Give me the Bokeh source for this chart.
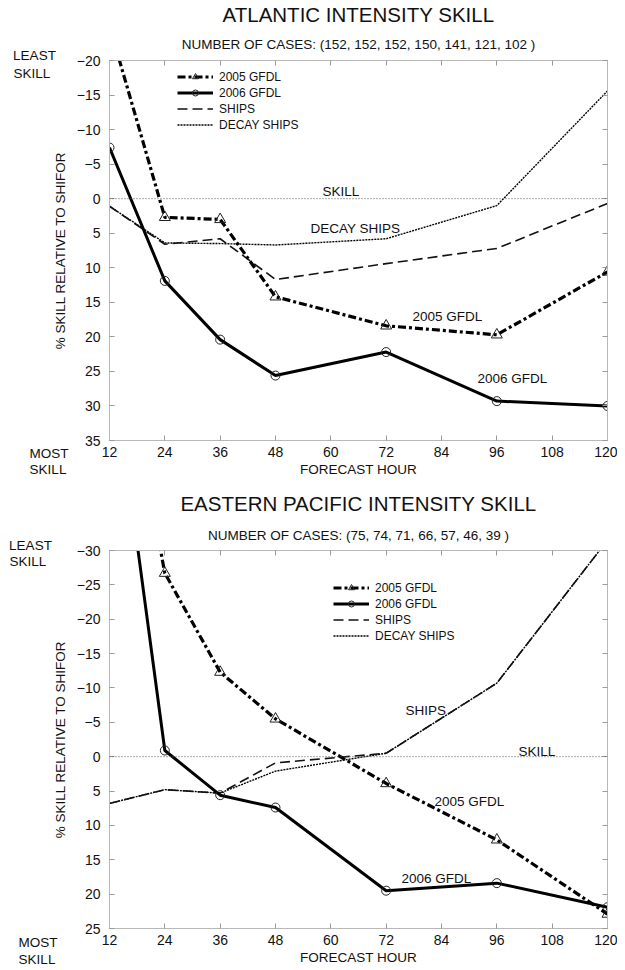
import json
import math
from bokeh.plotting import figure
from bokeh.models import (Range1d, FixedTicker, LinearAxis, Label, Span, Legend,
                          LegendItem, CustomJSTickFormatter, Title)
from bokeh.layouts import column, row
from bokeh.embed import file_html
from bokeh.resources import INLINE

# ---------------- data ----------------
hours = [12, 24, 36, 48, 72, 96, 120]
x_ticks = [12, 24, 36, 48, 60, 72, 84, 96, 108, 120]

atl_cases = [152, 152, 152, 150, 141, 121, 102]
atl_gfdl_2005 = [-25.0, 2.7, 3.0, 14.2, 18.4, 19.7, 10.6]
atl_gfdl_2006 = [-7.4, 11.9, 20.4, 25.6, 22.2, 29.3, 30.0]
atl_ships = [1.1, 6.6, 5.8, 11.7, 9.4, 7.2, 0.7]
atl_decay_ships = [1.1, 6.4, 6.5, 6.7, 5.8, 1.0, -15.6]
atl_y_ticks = [-20, -15, -10, -5, 0, 5, 10, 15, 20, 25, 30, 35]

epac_cases = [75, 74, 71, 66, 57, 46, 39]
epac_gfdl_2005 = [-70.0, -26.7, -12.3, -5.5, 3.9, 12.1, 22.9]
epac_gfdl_2006 = [-61.0, -0.9, 5.6, 7.4, 19.5, 18.4, 21.9]
epac_ships = [6.8, 4.8, 5.3, 0.9, -0.5, -10.7, -31.5]
epac_decay_ships = [6.8, 4.8, 5.3, 2.1, -0.5, -10.7, -31.5]
epac_y_ticks = [-30, -25, -20, -15, -10, -5, 0, 5, 10, 15, 20, 25]

series_names = ["2005 GFDL", "2006 GFDL", "SHIPS", "DECAY SHIPS"]
y_title = "% SKILL RELATIVE TO SHIFOR"
x_title = "FORECAST HOUR"

FONT = "Liberation Sans"
INK = "#111111"
FRAME = "#b8b8b8"
TXT = "13.5px"

# in-plot labels, pixels relative to the chart's top-left: (text, x, y)
atl_inplot = [("SKILL", 322, 191), ("DECAY SHIPS", 310, 228),
              ("2005 GFDL", 412, 316), ("2006 GFDL", 477, 378)]
epac_inplot = [("SHIPS", 405, 226), ("SKILL", 518, 267),
               ("2005 GFDL", 434, 317), ("2006 GFDL", 401, 394)]

STRIP_W = 70
MAIN_W = 547
FRAME_LEFT = 109          # page x of the plotting frame
BORDER_LEFT = FRAME_LEFT - STRIP_W
BORDER_RIGHT = 10


def text_axis(fig, place, tick, text, standoff):
    ax = LinearAxis(ticker=FixedTicker(ticks=[tick]),
                    formatter=CustomJSTickFormatter(code="return %s;" % json.dumps(text)),
                    major_label_standoff=standoff, axis_line_color=None,
                    major_tick_line_color=None, minor_tick_line_color=None,
                    major_tick_in=0, major_tick_out=0, minor_tick_in=0, minor_tick_out=0,
                    major_label_text_font=FONT, major_label_text_font_size=TXT,
                    major_label_text_color=INK)
    fig.add_layout(ax, place)


def make_strip(fig_h, border_top, border_bottom, least, skill_top, most, skill_bottom, ylab_y):
    s = figure(width=STRIP_W, height=fig_h, output_backend="svg", toolbar_location=None,
               x_range=Range1d(0, STRIP_W),
               y_range=Range1d(fig_h - border_bottom, border_top),
               x_axis_location=None, y_axis_location=None,
               min_border_left=0, min_border_right=0,
               min_border_top=border_top, min_border_bottom=border_bottom)
    s.grid.visible = False
    s.outline_line_color = None
    text_axis(s, "above", least[0], "LEAST", least[1])
    s.add_layout(Label(x=skill_top[0], y=skill_top[1], text="SKILL", text_font=FONT,
                       text_font_size=TXT, text_align="left", text_baseline="middle",
                       text_color=INK))
    text_axis(s, "below", most[0], "MOST", most[1])
    text_axis(s, "below", skill_bottom[0], "SKILL", skill_bottom[1])
    s.add_layout(Label(x=60, y=ylab_y, text=y_title, text_font=FONT, text_font_size=TXT,
                       text_align="center", text_baseline="middle", text_color=INK,
                       angle=math.pi / 2))
    return s


def make_chart(title, cases, y_top, y_bottom, y_ticks, values, inplot, fig_h,
               border_top, border_bottom, legend_loc, sub_standoff, title_standoff):
    frame_w = MAIN_W - BORDER_LEFT - BORDER_RIGHT
    frame_h = fig_h - border_top - border_bottom

    p = figure(width=MAIN_W, height=fig_h, output_backend="svg", toolbar_location=None,
               x_range=Range1d(12, 120), y_range=Range1d(y_bottom, y_top),
               min_border_left=BORDER_LEFT, min_border_right=BORDER_RIGHT,
               min_border_top=border_top, min_border_bottom=border_bottom)
    p.grid.visible = False
    p.outline_line_color = FRAME
    p.background_fill_color = "white"
    p.border_fill_color = "white"

    xa = p.below[0]
    ya = p.left[0]

    def style_axis(ax, ticks):
        ax.ticker = FixedTicker(ticks=ticks)
        ax.major_tick_in = 5
        ax.major_tick_out = 0
        ax.minor_tick_in = 0
        ax.minor_tick_out = 0
        ax.axis_line_color = FRAME
        ax.major_tick_line_color = "#999999"
        ax.major_label_text_font = FONT
        ax.major_label_text_font_size = "14px"
        ax.major_label_text_color = INK

    blank = "return '';"
    top_ax = LinearAxis(formatter=CustomJSTickFormatter(code=blank), major_label_standoff=0)
    style_axis(top_ax, x_ticks)
    p.add_layout(top_ax, "above")

    subtitle = "NUMBER OF CASES: (" + ", ".join(str(c) for c in cases) + " )"
    p.add_layout(Title(text=subtitle, align="center", text_font=FONT,
                       text_font_size=TXT, text_font_style="normal",
                       text_color=INK, standoff=sub_standoff), "above")
    p.add_layout(Title(text=title, align="center", vertical_align="top", text_font=FONT,
                       text_font_size="20.5px", text_font_style="normal",
                       text_color=INK, standoff=title_standoff), "above")

    style_axis(xa, x_ticks)
    xa.major_label_standoff = 6
    xa.axis_label = x_title
    xa.axis_label_standoff = 2
    xa.axis_label_text_font = FONT
    xa.axis_label_text_font_size = TXT
    xa.axis_label_text_font_style = "normal"
    xa.axis_label_text_color = INK

    style_axis(ya, y_ticks)
    ya.major_label_standoff = 9
    ya.formatter = CustomJSTickFormatter(
        code="return tick < 0 ? '\u2212' + Math.abs(tick) : String(tick);")

    right_ax = LinearAxis(formatter=CustomJSTickFormatter(code=blank), major_label_standoff=0)
    style_axis(right_ax, y_ticks)
    p.add_layout(right_ax, "right")

    # zero "SKILL" reference line
    p.add_layout(Span(location=0, dimension="width", line_color="#555555",
                      line_width=1, line_dash="1 2"))

    g05, g06, ships, decay = values
    r_decay = p.line(hours, decay, line_color="#000000", line_width=1.4, line_dash="2 1")
    r_ships = p.line(hours, ships, line_color="#111111", line_width=1.6, line_dash="10 5")
    r05 = p.line(hours, g05, line_color="#000000", line_width=3.2, line_dash="8 3 3 3")
    m05 = p.scatter(hours, g05, marker="triangle", size=11, line_color="#222222",
                    line_width=1, fill_alpha=0)
    r06 = p.line(hours, g06, line_color="#000000", line_width=3)
    m06 = p.scatter(hours, g06, marker="circle", size=9, line_color="#222222",
                    line_width=1, fill_alpha=0)

    items = [
        LegendItem(label=series_names[0], renderers=[r05, m05]),
        LegendItem(label=series_names[1], renderers=[r06, m06]),
        LegendItem(label=series_names[2], renderers=[r_ships]),
        LegendItem(label=series_names[3], renderers=[r_decay]),
    ]
    legend = Legend(items=items, location=legend_loc, glyph_width=36, glyph_height=15,
                    label_height=13, spacing=1, padding=0, margin=0, label_standoff=6,
                    label_text_font=FONT, label_text_font_size="12px",
                    label_text_color=INK, border_line_alpha=0,
                    background_fill_alpha=0)
    p.add_layout(legend)

    for text, px, py in inplot:
        hx = 12 + (px - FRAME_LEFT) / frame_w * 108
        vy = y_top + (py - border_top) / frame_h * (y_bottom - y_top)
        p.add_layout(Label(x=hx, y=vy, text=text, text_font=FONT, text_font_size=TXT,
                           text_align="left", text_baseline="middle", text_color=INK))
    return p


H1, H2 = 484, 486
p1 = make_chart("ATLANTIC INTENSITY SKILL", atl_cases, -20, 35, atl_y_ticks,
                (atl_gfdl_2005, atl_gfdl_2006, atl_ships, atl_decay_ships),
                atl_inplot, H1, 60, 44, (68, 308), 17, -2)
p2 = make_chart("EASTERN PACIFIC INTENSITY SKILL", epac_cases, -30, 25, epac_y_ticks,
                (epac_gfdl_2005, epac_gfdl_2006, epac_ships, epac_decay_ships),
                epac_inplot, H2, 66, 42, (224, 285), 15, 4)

s1 = make_strip(H1, 60, 44, (34, -2), (13, 73), (48.5, 5), (47.5, -2), 250)
s2 = make_strip(H2, 66, 42, (30, -2), (9, 77), (37.5, 6), (36.5, -1), 255)

layout = column(row(s1, p1, spacing=0), row(s2, p2, spacing=0), spacing=0)
open("out.html", "w").write(file_html(layout, INLINE))
